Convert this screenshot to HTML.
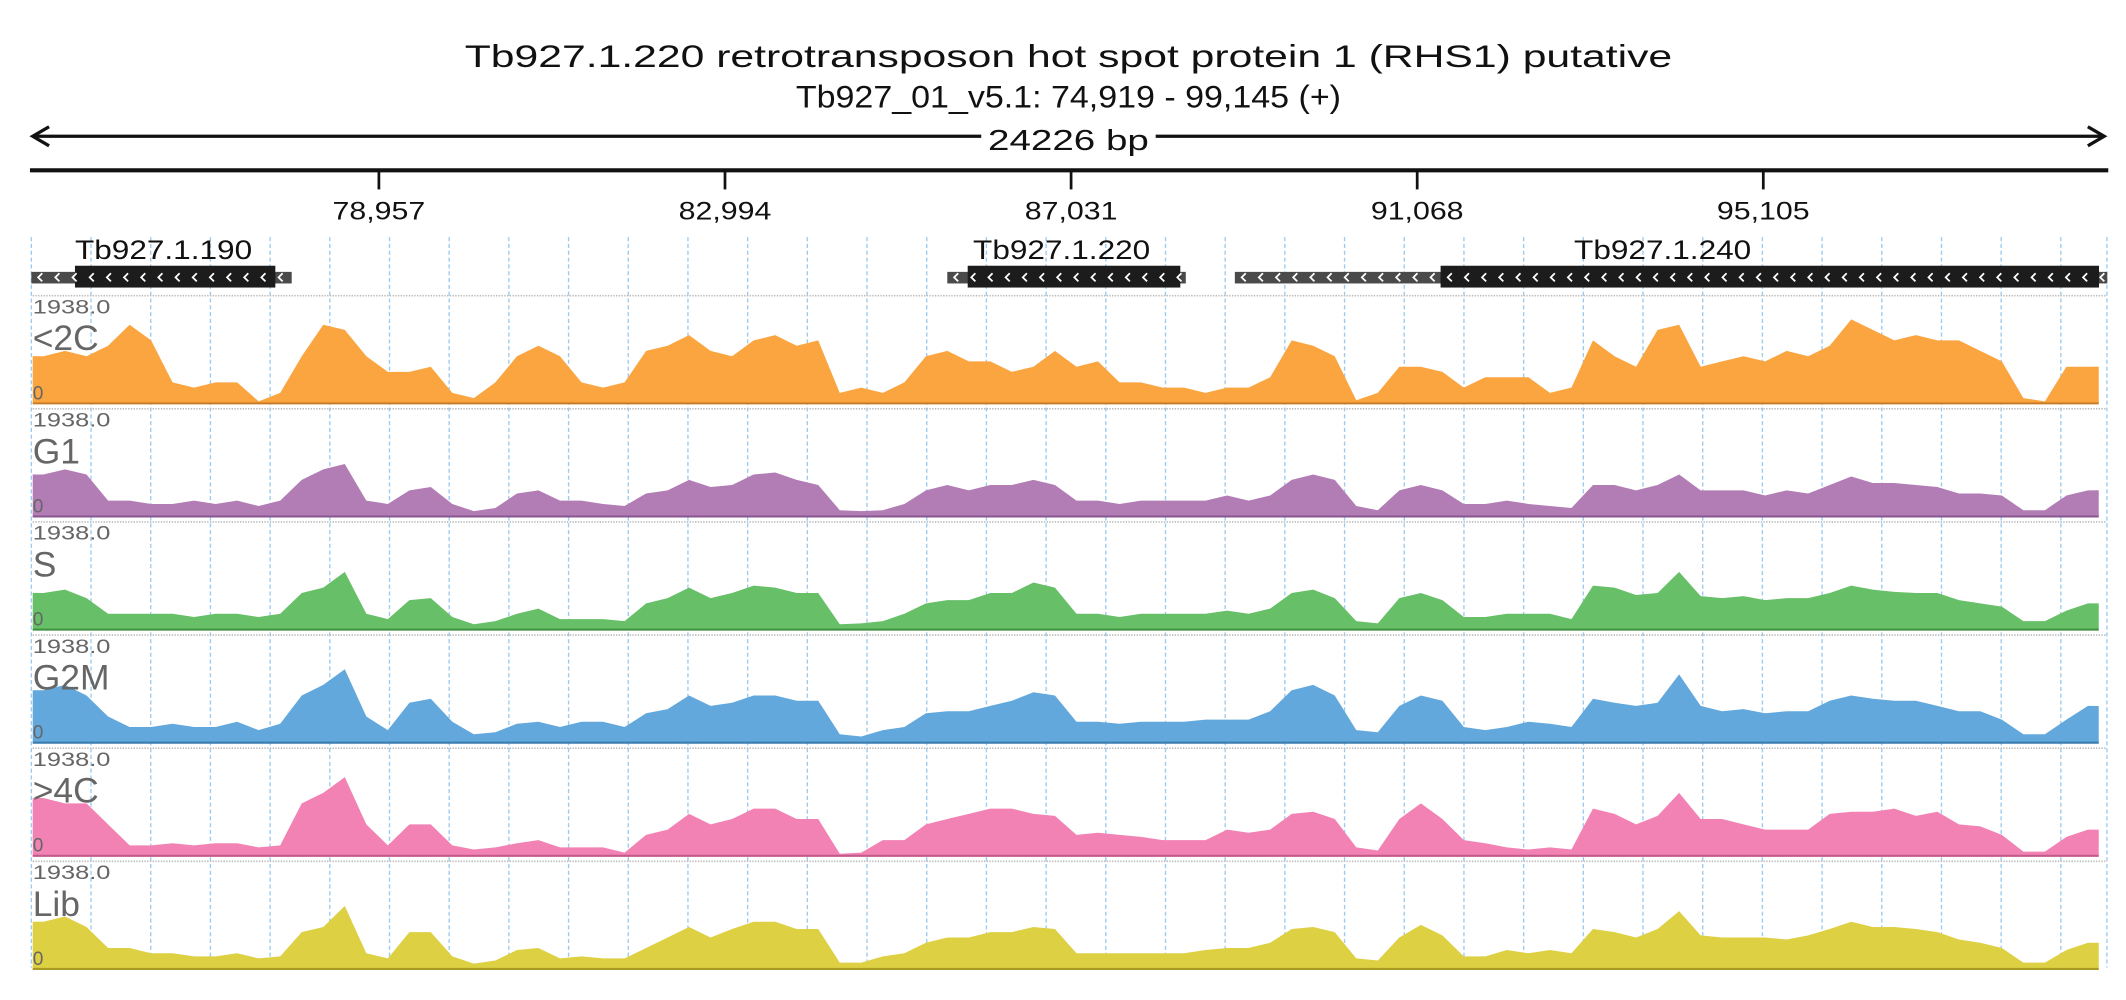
<!DOCTYPE html>
<html><head><meta charset="utf-8"><style>
html,body{margin:0;padding:0;background:#fff;}
svg{display:block;font-family:"Liberation Sans",sans-serif;}
</style></head><body>
<svg id="chart" width="2126" height="1000" viewBox="0 0 1560 733.8" preserveAspectRatio="none" xmlns="http://www.w3.org/2000/svg">
<text x="784" y="49" text-anchor="middle" font-size="23" textLength="886" lengthAdjust="spacingAndGlyphs" fill="#111">Tb927.1.220  retrotransposon hot spot protein 1 (RHS1)  putative</text>
<text x="784" y="79" text-anchor="middle" font-size="23" textLength="400" lengthAdjust="spacingAndGlyphs" fill="#111">Tb927_01_v5.1: 74,919 - 99,145 (+)</text>
<g stroke="#111" stroke-width="2.4" fill="none">
<line x1="24" y1="100" x2="1544" y2="100"/>
<polyline points="36,93 24,100 36,107"/>
<polyline points="1532,93 1544,100 1532,107"/>
</g>
<rect x="720" y="88" width="128" height="24" fill="#fff"/>
<text x="784" y="110" text-anchor="middle" font-size="21" textLength="118" lengthAdjust="spacingAndGlyphs" fill="#111">24226 bp</text>
<line x1="22" y1="125" x2="1547" y2="125" stroke="#111" stroke-width="3"/>
<g id="ticks"></g>
<g id="grid"></g>
<g id="genes"></g>
<g id="tracks"></g>
</svg>
<script>
const NS="http://www.w3.org/2000/svg";
const bpStart=74919, bpEnd=99145;
const tickValues=[78957,82994,87031,91068,95105];
const tickLabels=["78,957","82,994","87,031","91,068","95,105"];
const trackNames=["<2C","G1","S","G2M",">4C","Lib"];
const yMaxLabel="1938.0";
const yMinLabel="0";
const geneNames=["Tb927.1.190","Tb927.1.220","Tb927.1.240"];
const geneUtrStart=[74903,85587,88941];
const geneCdsStart=[75412,85825,91341];
const geneCdsEnd=[77749,88305,99021];
const geneUtrEnd=[77940,88369,99117];
const c2Values=[0.45,0.5,0.45,0.55,0.75,0.6,0.2,0.15,0.2,0.2,0.02,0.1,0.45,0.75,0.7,0.45,0.3,0.3,0.35,0.1,0.05,0.2,0.45,0.55,0.45,0.2,0.15,0.2,0.5,0.55,0.65,0.5,0.45,0.6,0.65,0.55,0.6,0.1,0.15,0.1,0.2,0.45,0.5,0.4,0.4,0.3,0.35,0.5,0.35,0.4,0.2,0.2,0.15,0.15,0.1,0.15,0.15,0.25,0.6,0.55,0.45,0.03,0.1,0.35,0.35,0.3,0.15,0.25,0.25,0.25,0.1,0.15,0.6,0.45,0.35,0.7,0.75,0.35,0.4,0.45,0.4,0.5,0.45,0.55,0.8,0.7,0.6,0.65,0.6,0.6,0.5,0.4,0.05,0.02,0.35,0.35];
const g1Values=[0.4,0.45,0.4,0.15,0.15,0.12,0.12,0.15,0.12,0.15,0.1,0.15,0.35,0.45,0.5,0.15,0.12,0.25,0.28,0.12,0.05,0.08,0.22,0.25,0.15,0.15,0.12,0.1,0.22,0.25,0.35,0.28,0.3,0.4,0.42,0.35,0.3,0.06,0.05,0.06,0.12,0.25,0.3,0.25,0.3,0.3,0.35,0.3,0.15,0.15,0.12,0.15,0.15,0.15,0.15,0.2,0.15,0.2,0.35,0.4,0.35,0.1,0.06,0.25,0.3,0.25,0.12,0.12,0.15,0.12,0.1,0.08,0.3,0.3,0.25,0.3,0.4,0.25,0.25,0.25,0.2,0.25,0.22,0.3,0.38,0.32,0.32,0.3,0.28,0.22,0.22,0.2,0.06,0.06,0.2,0.25];
const sValues=[0.35,0.38,0.3,0.15,0.15,0.15,0.15,0.12,0.15,0.15,0.12,0.15,0.35,0.4,0.55,0.15,0.1,0.28,0.3,0.12,0.05,0.08,0.15,0.2,0.1,0.1,0.1,0.08,0.25,0.3,0.4,0.3,0.35,0.42,0.4,0.35,0.35,0.05,0.06,0.08,0.15,0.25,0.28,0.28,0.35,0.35,0.45,0.4,0.15,0.15,0.12,0.15,0.15,0.15,0.15,0.18,0.15,0.2,0.35,0.38,0.3,0.08,0.06,0.3,0.35,0.28,0.12,0.12,0.15,0.15,0.15,0.1,0.42,0.4,0.33,0.35,0.55,0.32,0.3,0.32,0.28,0.3,0.3,0.35,0.42,0.38,0.36,0.35,0.35,0.28,0.25,0.22,0.08,0.08,0.18,0.25];
const g2mValues=[0.5,0.55,0.45,0.25,0.15,0.15,0.18,0.15,0.15,0.2,0.12,0.18,0.45,0.55,0.7,0.25,0.12,0.38,0.42,0.2,0.08,0.1,0.18,0.2,0.15,0.2,0.2,0.15,0.28,0.32,0.45,0.35,0.38,0.45,0.45,0.4,0.4,0.08,0.06,0.12,0.15,0.28,0.3,0.3,0.35,0.4,0.48,0.45,0.2,0.2,0.18,0.2,0.2,0.2,0.22,0.22,0.22,0.3,0.5,0.55,0.45,0.12,0.1,0.35,0.45,0.4,0.15,0.12,0.15,0.2,0.18,0.15,0.42,0.38,0.35,0.38,0.65,0.35,0.3,0.32,0.28,0.3,0.3,0.4,0.45,0.42,0.4,0.4,0.35,0.3,0.3,0.22,0.08,0.08,0.22,0.35];
const c4Values=[0.55,0.5,0.5,0.3,0.1,0.1,0.12,0.1,0.12,0.12,0.08,0.1,0.5,0.6,0.75,0.3,0.1,0.3,0.3,0.1,0.06,0.08,0.12,0.15,0.08,0.08,0.08,0.03,0.2,0.25,0.4,0.3,0.35,0.45,0.45,0.35,0.35,0.02,0.03,0.15,0.15,0.3,0.35,0.4,0.45,0.45,0.4,0.38,0.2,0.22,0.2,0.18,0.15,0.15,0.15,0.25,0.22,0.25,0.4,0.42,0.35,0.08,0.05,0.35,0.5,0.35,0.15,0.12,0.08,0.06,0.08,0.06,0.45,0.4,0.3,0.38,0.6,0.35,0.35,0.3,0.25,0.25,0.25,0.4,0.42,0.42,0.45,0.38,0.42,0.3,0.28,0.2,0.04,0.04,0.18,0.25];
const libValues=[0.45,0.5,0.4,0.2,0.2,0.15,0.15,0.12,0.12,0.15,0.1,0.12,0.35,0.4,0.6,0.15,0.1,0.35,0.35,0.12,0.05,0.08,0.18,0.2,0.1,0.12,0.1,0.1,0.2,0.3,0.4,0.3,0.38,0.45,0.45,0.38,0.38,0.06,0.06,0.12,0.15,0.25,0.3,0.3,0.35,0.35,0.4,0.38,0.15,0.15,0.15,0.15,0.15,0.15,0.18,0.2,0.2,0.25,0.38,0.4,0.35,0.1,0.08,0.3,0.42,0.32,0.12,0.12,0.18,0.15,0.18,0.15,0.38,0.35,0.3,0.38,0.55,0.32,0.3,0.3,0.3,0.28,0.32,0.38,0.45,0.4,0.4,0.38,0.35,0.28,0.25,0.2,0.06,0.06,0.18,0.25];

const seriesList=[c2Values,g1Values,sValues,g2mValues,c4Values,libValues];
const fills=["#faa540","#b27cb5","#67bf68","#62a8dc","#f282b4","#ddd043"];
const lines=["#c97c25","#8a5690","#3f8f41","#3b7cae","#c45a8a","#a89a22"];
const trackTop=[217,300,383,466,549,632];
const trackH=79;
const dataX0=24,dataX1=1540;

function xBp(bp){return 24+(bp-bpStart)*(1524/(bpEnd-bpStart));}
function xBin(i,n){return dataX0+(i+0.5)*(dataX1-dataX0)/n;}
function yVal(v,t){return t+trackH-Math.min(v,1)*(trackH-2);}
function mk(tag,attrs,parent){const e=document.createElementNS(NS,tag);for(const k in attrs)e.setAttribute(k,attrs[k]);parent.appendChild(e);return e;}

const tickG=document.getElementById('ticks');
tickValues.forEach((v,i)=>{
  const x=xBp(v);
  const l=mk('line',{x1:x,y1:125,x2:x,y2:139,stroke:'#111','stroke-width':2},tickG);
  
  
  const t=mk('text',{x:x,y:161,'text-anchor':'middle','font-size':18,textLength:68,lengthAdjust:'spacingAndGlyphs',fill:'#111'},tickG);
  t.textContent=tickLabels[i];
  
  
});

const gridG=document.getElementById('grid');
for(let x=23;x<1547;x+=43.8){
  const l=mk('line',{x1:x,y1:174,x2:x,y2:710,stroke:'#9ccbef','stroke-width':1,'stroke-dasharray':'3,2'},gridG);
  
  
}
const gl=mk('line',{x1:1546,y1:174,x2:1546,y2:710,stroke:'#9ccbef','stroke-width':1,'stroke-dasharray':'3,2'},gridG);



const geneG=document.getElementById('genes');
const labelX=[55,714,1155];
geneNames.forEach((name,i)=>{
  const g=mk('g',{},geneG);
  
  
  const u0=xBp(geneUtrStart[i]),u1=xBp(geneUtrEnd[i]),c0=xBp(geneCdsStart[i]),c1=xBp(geneCdsEnd[i]);
  mk('rect',{x:u0,y:199.5,width:u1-u0,height:8.5,fill:'#4a4a4a'},g);
  mk('rect',{x:c0,y:195,width:c1-c0,height:16,fill:'#1c1c1c'},g);
  for(let x=u0+5;x<u1-3;x+=12.6){
    mk('polyline',{points:(x+3)+',200.5 '+x+',203.5 '+(x+3)+',206.5',fill:'none',stroke:'#fff','stroke-width':1.3},g);
  }
  const t=mk('text',{x:labelX[i],y:190,'font-size':20,textLength:130,lengthAdjust:'spacingAndGlyphs',fill:'#111'},g);
  t.textContent=name;
  
  
});

const trG=document.getElementById('tracks');
seriesList.forEach((vals,ti)=>{
  const top=trackTop[ti];
  const g=mk('g',{},trG);
  
  
  const sep=mk('line',{x1:24,y1:top,x2:1546,y2:top,stroke:'#bbb','stroke-width':1.2,'stroke-dasharray':'1,1'},g);
  
  
  const n=vals.length;
  const base=top+trackH;
  let d='M'+dataX0+','+base+' L'+dataX0+','+yVal(vals[0],top);
  vals.forEach((v,i)=>{d+=' L'+xBin(i,n).toFixed(1)+','+yVal(v,top).toFixed(1);});
  d+=' L'+dataX1+','+yVal(vals[n-1],top)+' L'+dataX1+','+base+' Z';
  const a=mk('path',{d:d,fill:fills[ti]},g);
  
  
  const bl=mk('line',{x1:dataX0,y1:base,x2:dataX1,y2:base,stroke:lines[ti],'stroke-width':1.5},g);
  
  
  const mx=mk('text',{x:24,y:top+13,'font-size':14,fill:'#666',textLength:57,lengthAdjust:'spacingAndGlyphs'},g);
  mx.textContent=yMaxLabel;
  
  
  const lb=mk('text',{x:24,y:top+40,'font-size':26,fill:'#666'},g);
  lb.textContent=trackNames[ti];
  
  
  const z=mk('text',{x:24,y:top+76,'font-size':14,fill:'#666'},g);
  z.textContent=yMinLabel;
  
  
});
</script>
</body></html>
